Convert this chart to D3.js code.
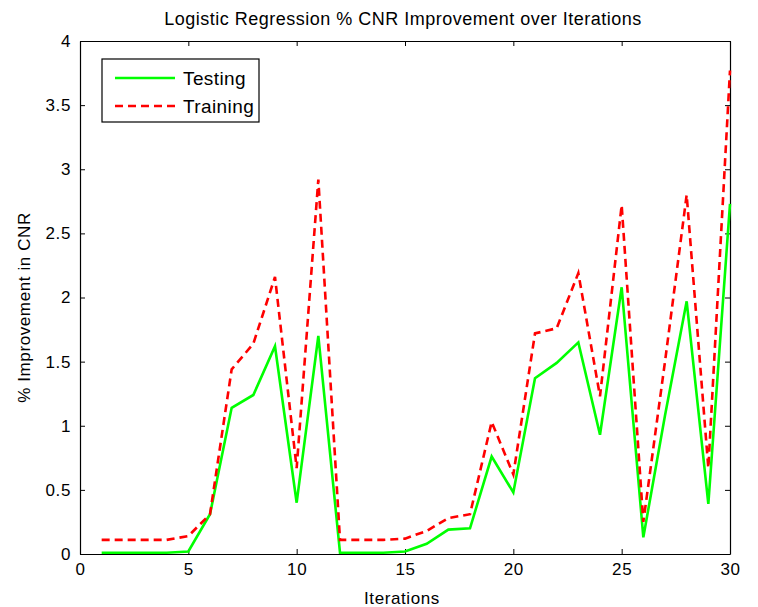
<!DOCTYPE html>
<html lang="en">
<head>
<meta charset="UTF-8">
<title>Logistic Regression % CNR Improvement</title>
<style>
  body { margin: 0; background: #fff; }
  svg { display: block; font-family: Arial, "Liberation Sans", sans-serif; }
  .axis path, .axis line { stroke: #000; }
  .axis text { font-size: 17px; fill: #000; letter-spacing: 0.6px; }
</style>
</head>
<body>
<svg id="chart" width="758" height="607"></svg>
<script src="https://cdn.jsdelivr.net/npm/d3@7"></script>
<script>
// data
const iterations = d3.range(1, 31);
const testing = [0.01, 0.01, 0.01, 0.01, 0.02, 0.31, 1.14, 1.24, 1.62, 0.40,
                 1.70, 0.01, 0.01, 0.01, 0.02, 0.08, 0.19, 0.20, 0.76, 0.48,
                 1.37, 1.49, 1.65, 0.93, 2.08, 0.13, 1.08, 1.97, 0.39, 2.73];
const training = [0.11, 0.11, 0.11, 0.11, 0.14, 0.31, 1.44, 1.64, 2.16, 0.67,
                  2.92, 0.11, 0.11, 0.11, 0.12, 0.18, 0.28, 0.31, 1.03, 0.62,
                  1.72, 1.76, 2.19, 1.23, 2.72, 0.25, 1.50, 2.80, 0.67, 3.77];
const xTicks = [0, 5, 10, 15, 20, 25, 30];
const yTicks = [0, 0.5, 1, 1.5, 2, 2.5, 3, 3.5, 4];

const svg = d3.select("#chart");
const plotLeft = 80, plotRight = 730, plotTop = 41, plotBottom = 554;

const x = d3.scaleLinear().domain([0, 30]).range([plotLeft, plotRight]);
const y = d3.scaleLinear().domain([0, 4]).range([plotBottom, plotTop]);

// axes box with inward ticks on all sides
svg.append("g").attr("class", "axis")
    .attr("transform", `translate(0,${plotBottom})`)
    .call(d3.axisBottom(x).tickValues(xTicks).tickSizeInner(-5).tickSizeOuter(0).tickPadding(9));
svg.append("g").attr("class", "axis")
    .attr("transform", `translate(0,${plotTop})`)
    .call(d3.axisTop(x).tickValues(xTicks).tickSizeInner(-5).tickSizeOuter(0).tickFormat(""));
svg.append("g").attr("class", "axis")
    .attr("transform", `translate(${plotLeft},0)`)
    .call(d3.axisLeft(y).tickValues(yTicks).tickFormat(d3.format("~g"))
        .tickSizeInner(-5).tickSizeOuter(0).tickPadding(9));
svg.append("g").attr("class", "axis")
    .attr("transform", `translate(${plotRight},0)`)
    .call(d3.axisRight(y).tickValues(yTicks).tickSizeInner(-5).tickSizeOuter(0).tickFormat(""));

svg.selectAll(".axis path").attr("stroke-width", 1.2);

// lines
const line = d3.line().x((d, i) => x(iterations[i])).y(d => y(d));

svg.append("path").datum(testing)
    .attr("d", line)
    .attr("fill", "none")
    .attr("stroke", "#00ff00")
    .attr("stroke-width", 2.6)
    .attr("stroke-linejoin", "miter");

svg.append("path").datum(training)
    .attr("d", line)
    .attr("fill", "none")
    .attr("stroke", "#ff0000")
    .attr("stroke-width", 2.6)
    .attr("stroke-dasharray", "8,5");

// titles
svg.append("text")
    .attr("x", (plotLeft + plotRight) / 2 - 2).attr("y", 25)
    .attr("text-anchor", "middle")
    .attr("font-size", 18)
    .attr("letter-spacing", "0.5px")
    .text("Logistic Regression % CNR Improvement over Iterations");

svg.append("text")
    .attr("x", (plotLeft + plotRight) / 2 - 3).attr("y", 604)
    .attr("text-anchor", "middle")
    .attr("font-size", 17)
    .attr("letter-spacing", "0.6px")
    .text("Iterations");

svg.append("text")
    .attr("transform", `translate(30,${(plotTop + plotBottom) / 2 + 10}) rotate(-90)`)
    .attr("text-anchor", "middle")
    .attr("font-size", 17)
    .attr("letter-spacing", "0.6px")
    .text("% Improvement in CNR");

// legend
const legend = svg.append("g").attr("transform", "translate(102,59)");
legend.append("rect")
    .attr("width", 157).attr("height", 63)
    .attr("fill", "#fff").attr("stroke", "#000").attr("stroke-width", 1.2);
const items = [
    { name: "Testing", color: "#00ff00", dash: null },
    { name: "Training", color: "#ff0000", dash: "8,5" }
];
items.forEach((d, i) => {
    const yy = 19 + i * 28;
    legend.append("line")
        .attr("x1", 13).attr("x2", 73).attr("y1", yy).attr("y2", yy)
        .attr("stroke", d.color).attr("stroke-width", 2.6)
        .attr("stroke-dasharray", d.dash);
    legend.append("text")
        .attr("x", 81).attr("y", yy + 7)
        .attr("font-size", 19)
        .attr("letter-spacing", "0.4px")
        .text(d.name);
});
</script>
</body>
</html>
